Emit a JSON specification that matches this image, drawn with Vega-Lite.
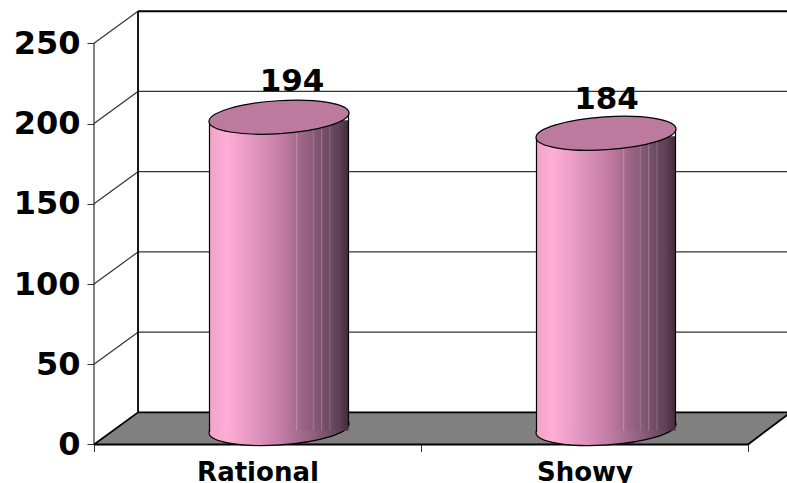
{
  "$schema": "https://vega.github.io/schema/vega-lite/v6.json",
  "width": 787,
  "height": 483,
  "padding": 0,
  "autosize": "none",
  "background": "white",
  "view": {"stroke": null},
  "datasets": {
    "scores": [
      {"category": "Rational", "pos": 0.5, "value": 194},
      {"category": "Showy", "pos": 1.5, "value": 184}
    ],
    "floor": [
      {"x": 0, "top": 0, "bottom": 0},
      {"x": 0.1346, "top": 20, "bottom": 0},
      {"x": 2, "top": 20, "bottom": 0},
      {"x": 2.13, "top": 20, "bottom": 20}
    ],
    "grid": [
      {"x": 0.1346, "x2": 2.13, "y": 70, "y2": 70},
      {"x": 0.1346, "x2": 2.13, "y": 120, "y2": 120},
      {"x": 0.1346, "x2": 2.13, "y": 170, "y2": 170},
      {"x": 0.1346, "x2": 2.13, "y": 220, "y2": 220},
      {"x": 0, "x2": 0.1346, "y": 50, "y2": 70},
      {"x": 0, "x2": 0.1346, "y": 100, "y2": 120},
      {"x": 0, "x2": 0.1346, "y": 150, "y2": 170},
      {"x": 0, "x2": 0.1346, "y": 200, "y2": 220},
      {"x": 0, "x2": 0.1346, "y": 250, "y2": 270},
      {"x": 0, "x2": 0, "y": 0, "y2": 250}
    ],
    "frame": [
      {"x": 0.1346, "x2": 2.13, "y": 270, "y2": 270},
      {"x": 0.1346, "x2": 0.1346, "y": 20, "y2": 270},
      {"x": 0.1346, "x2": 2.13, "y": 20, "y2": 20},
      {"x": 0, "x2": 2, "y": 0, "y2": 0},
      {"x": 0, "x2": 0.1346, "y": 0, "y2": 20},
      {"x": 2, "x2": 2.13, "y": 0, "y2": 20}
    ]
  },
  "encoding": {
    "x": {
      "type": "quantitative",
      "scale": {"domain": [-0.28746, 2.1193], "range": [0, 787], "nice": false, "zero": false, "padding": 0},
      "axis": {
        "title": null, "orient": "bottom", "offset": -38.5, "domain": false, "grid": false,
        "values": [0, 0.5, 1, 1.5, 2],
        "labelExpr": "datum.value == 0.5 ? 'Rational' : datum.value == 1.5 ? 'Showy' : ''",
        "tickSize": 7, "tickColor": "#333333", "tickWidth": 1,
        "tickOpacity": {"condition": {"test": "datum.value % 1 == 0", "value": 1}, "value": 0},
        "labelFont": "DejaVu Sans", "labelFontWeight": "bold", "labelFontSize": 26,
        "labelColor": "#000000", "labelPadding": 8, "labelOverlap": false, "labelFlush": false
      }
    },
    "y": {
      "type": "quantitative",
      "scale": {"domain": [-24, 277], "range": [483, 0], "nice": false, "zero": false},
      "axis": {
        "title": null, "orient": "left", "offset": -94, "domain": false, "grid": false,
        "values": [0, 50, 100, 150, 200, 250],
        "tickSize": 7, "tickColor": "#333333", "tickWidth": 1,
        "labelFont": "DejaVu Sans", "labelFontWeight": "bold", "labelFontSize": 32,
        "labelColor": "#000000", "labelPadding": 7, "labelOverlap": false, "labelFlush": false
      }
    }
  },
  "layer": [
    {
      "data": {"name": "floor"},
      "mark": {"type": "area", "color": "#808080", "line": false},
      "encoding": {
        "x": {"field": "x"},
        "y": {"field": "top"},
        "y2": {"field": "bottom"}
      }
    },
    {
      "data": {"name": "grid"},
      "mark": {"type": "rule", "color": "#333333", "strokeWidth": 1.2},
      "encoding": {
        "x": {"field": "x"},
        "x2": {"field": "x2"},
        "y": {"field": "y"},
        "y2": {"field": "y2"}
      }
    },
    {
      "data": {"name": "frame"},
      "mark": {"type": "rule", "color": "#000000", "strokeWidth": 1.8},
      "encoding": {
        "x": {"field": "x"},
        "x2": {"field": "x2"},
        "y": {"field": "y"},
        "y2": {"field": "y2"}
      }
    },
    {
      "data": {"name": "scores"},
      "mark": {
        "type": "point", "filled": true, "xOffset": 21.5, "yOffset": -16, "size": 19600,
        "shape": "M-1,0.065A1,0.235 -3.7 1,0 1,-0.065A1,0.235 -3.7 1,0 -1,0.065Z",
        "fill": {
          "x1": 0, "x2": 1, "y1": 0, "y2": 0, "gradient": "linear",
          "stops": [
            {"offset": 0, "color": "#f2a3c8"},
            {"offset": 0.12, "color": "#ffaed6"},
            {"offset": 0.5, "color": "#c67fa8"},
            {"offset": 0.75, "color": "#8f5f7e"},
            {"offset": 0.92, "color": "#634558"},
            {"offset": 1, "color": "#48303f"}
          ]
        },
        "stroke": "#000000", "strokeWidth": 1.2, "opacity": 1
      },
      "encoding": {
        "x": {"field": "pos"},
        "y": {"datum": 0}
      }
    },
    {
      "data": {"name": "scores"},
      "mark": {
        "type": "bar", "orient": "vertical", "width": 139, "xOffset": 21.5, "yOffset": -13, "y2Offset": -14,
        "cornerRadius": 0,
        "fill": {
          "x1": 0, "x2": 1, "y1": 0, "y2": 0, "gradient": "linear",
          "stops": [
            {"offset": 0, "color": "#f2a3c8"},
            {"offset": 0.12, "color": "#ffaed6"},
            {"offset": 0.5, "color": "#c67fa8"},
            {"offset": 0.62, "color": "#a86d90"},
            {"offset": 0.625, "color": "#bb8fa9"},
            {"offset": 0.635, "color": "#a46a8c"},
            {"offset": 0.74, "color": "#8b5c7a"},
            {"offset": 0.745, "color": "#a07f94"},
            {"offset": 0.755, "color": "#885a77"},
            {"offset": 0.8, "color": "#7b5370"},
            {"offset": 0.805, "color": "#967b8b"},
            {"offset": 0.815, "color": "#785069"},
            {"offset": 0.86, "color": "#6d4b60"},
            {"offset": 0.865, "color": "#86697b"},
            {"offset": 0.875, "color": "#6a485d"},
            {"offset": 0.93, "color": "#5e4253"},
            {"offset": 1, "color": "#43293a"}
          ]
        }
      },
      "encoding": {
        "x": {"field": "pos"},
        "y": {"field": "value"},
        "y2": {"datum": 0}
      }
    },
    {
      "data": {"name": "scores"},
      "mark": {"type": "rule", "color": "#000000", "strokeWidth": 1.2, "xOffset": -48, "yOffset": -11, "y2Offset": -12.5},
      "encoding": {
        "x": {"field": "pos"},
        "y": {"field": "value"},
        "y2": {"datum": 0}
      }
    },
    {
      "data": {"name": "scores"},
      "mark": {"type": "rule", "color": "#000000", "strokeWidth": 1.2, "xOffset": 91, "yOffset": -20, "y2Offset": -19.5},
      "encoding": {
        "x": {"field": "pos"},
        "y": {"field": "value"},
        "y2": {"datum": 0}
      }
    },
    {
      "data": {"name": "scores"},
      "mark": {
        "type": "point", "filled": true, "xOffset": 21.5, "yOffset": -16, "size": 19600,
        "shape": "M-1,0.065A1,0.235 -3.7 1,0 1,-0.065A1,0.235 -3.7 1,0 -1,0.065Z",
        "fill": "#bc7a9f", "stroke": "#000000", "strokeWidth": 1.2, "opacity": 1
      },
      "encoding": {
        "x": {"field": "pos"},
        "y": {"field": "value"}
      }
    },
    {
      "data": {"name": "scores"},
      "transform": [{"filter": "datum.category == 'Rational'"}],
      "mark": {"type": "text", "font": "DejaVu Sans", "fontWeight": "bold", "fontSize": 31, "color": "#000000", "align": "center", "baseline": "alphabetic", "dx": 34.5, "dy": -42},
      "encoding": {
        "x": {"field": "pos"},
        "y": {"field": "value"},
        "text": {"field": "value", "type": "quantitative"}
      }
    },
    {
      "data": {"name": "scores"},
      "transform": [{"filter": "datum.category == 'Showy'"}],
      "mark": {"type": "text", "font": "DejaVu Sans", "fontWeight": "bold", "fontSize": 31, "color": "#000000", "align": "center", "baseline": "alphabetic", "dx": 22, "dy": -40},
      "encoding": {
        "x": {"field": "pos"},
        "y": {"field": "value"},
        "text": {"field": "value", "type": "quantitative"}
      }
    }
  ]
}
